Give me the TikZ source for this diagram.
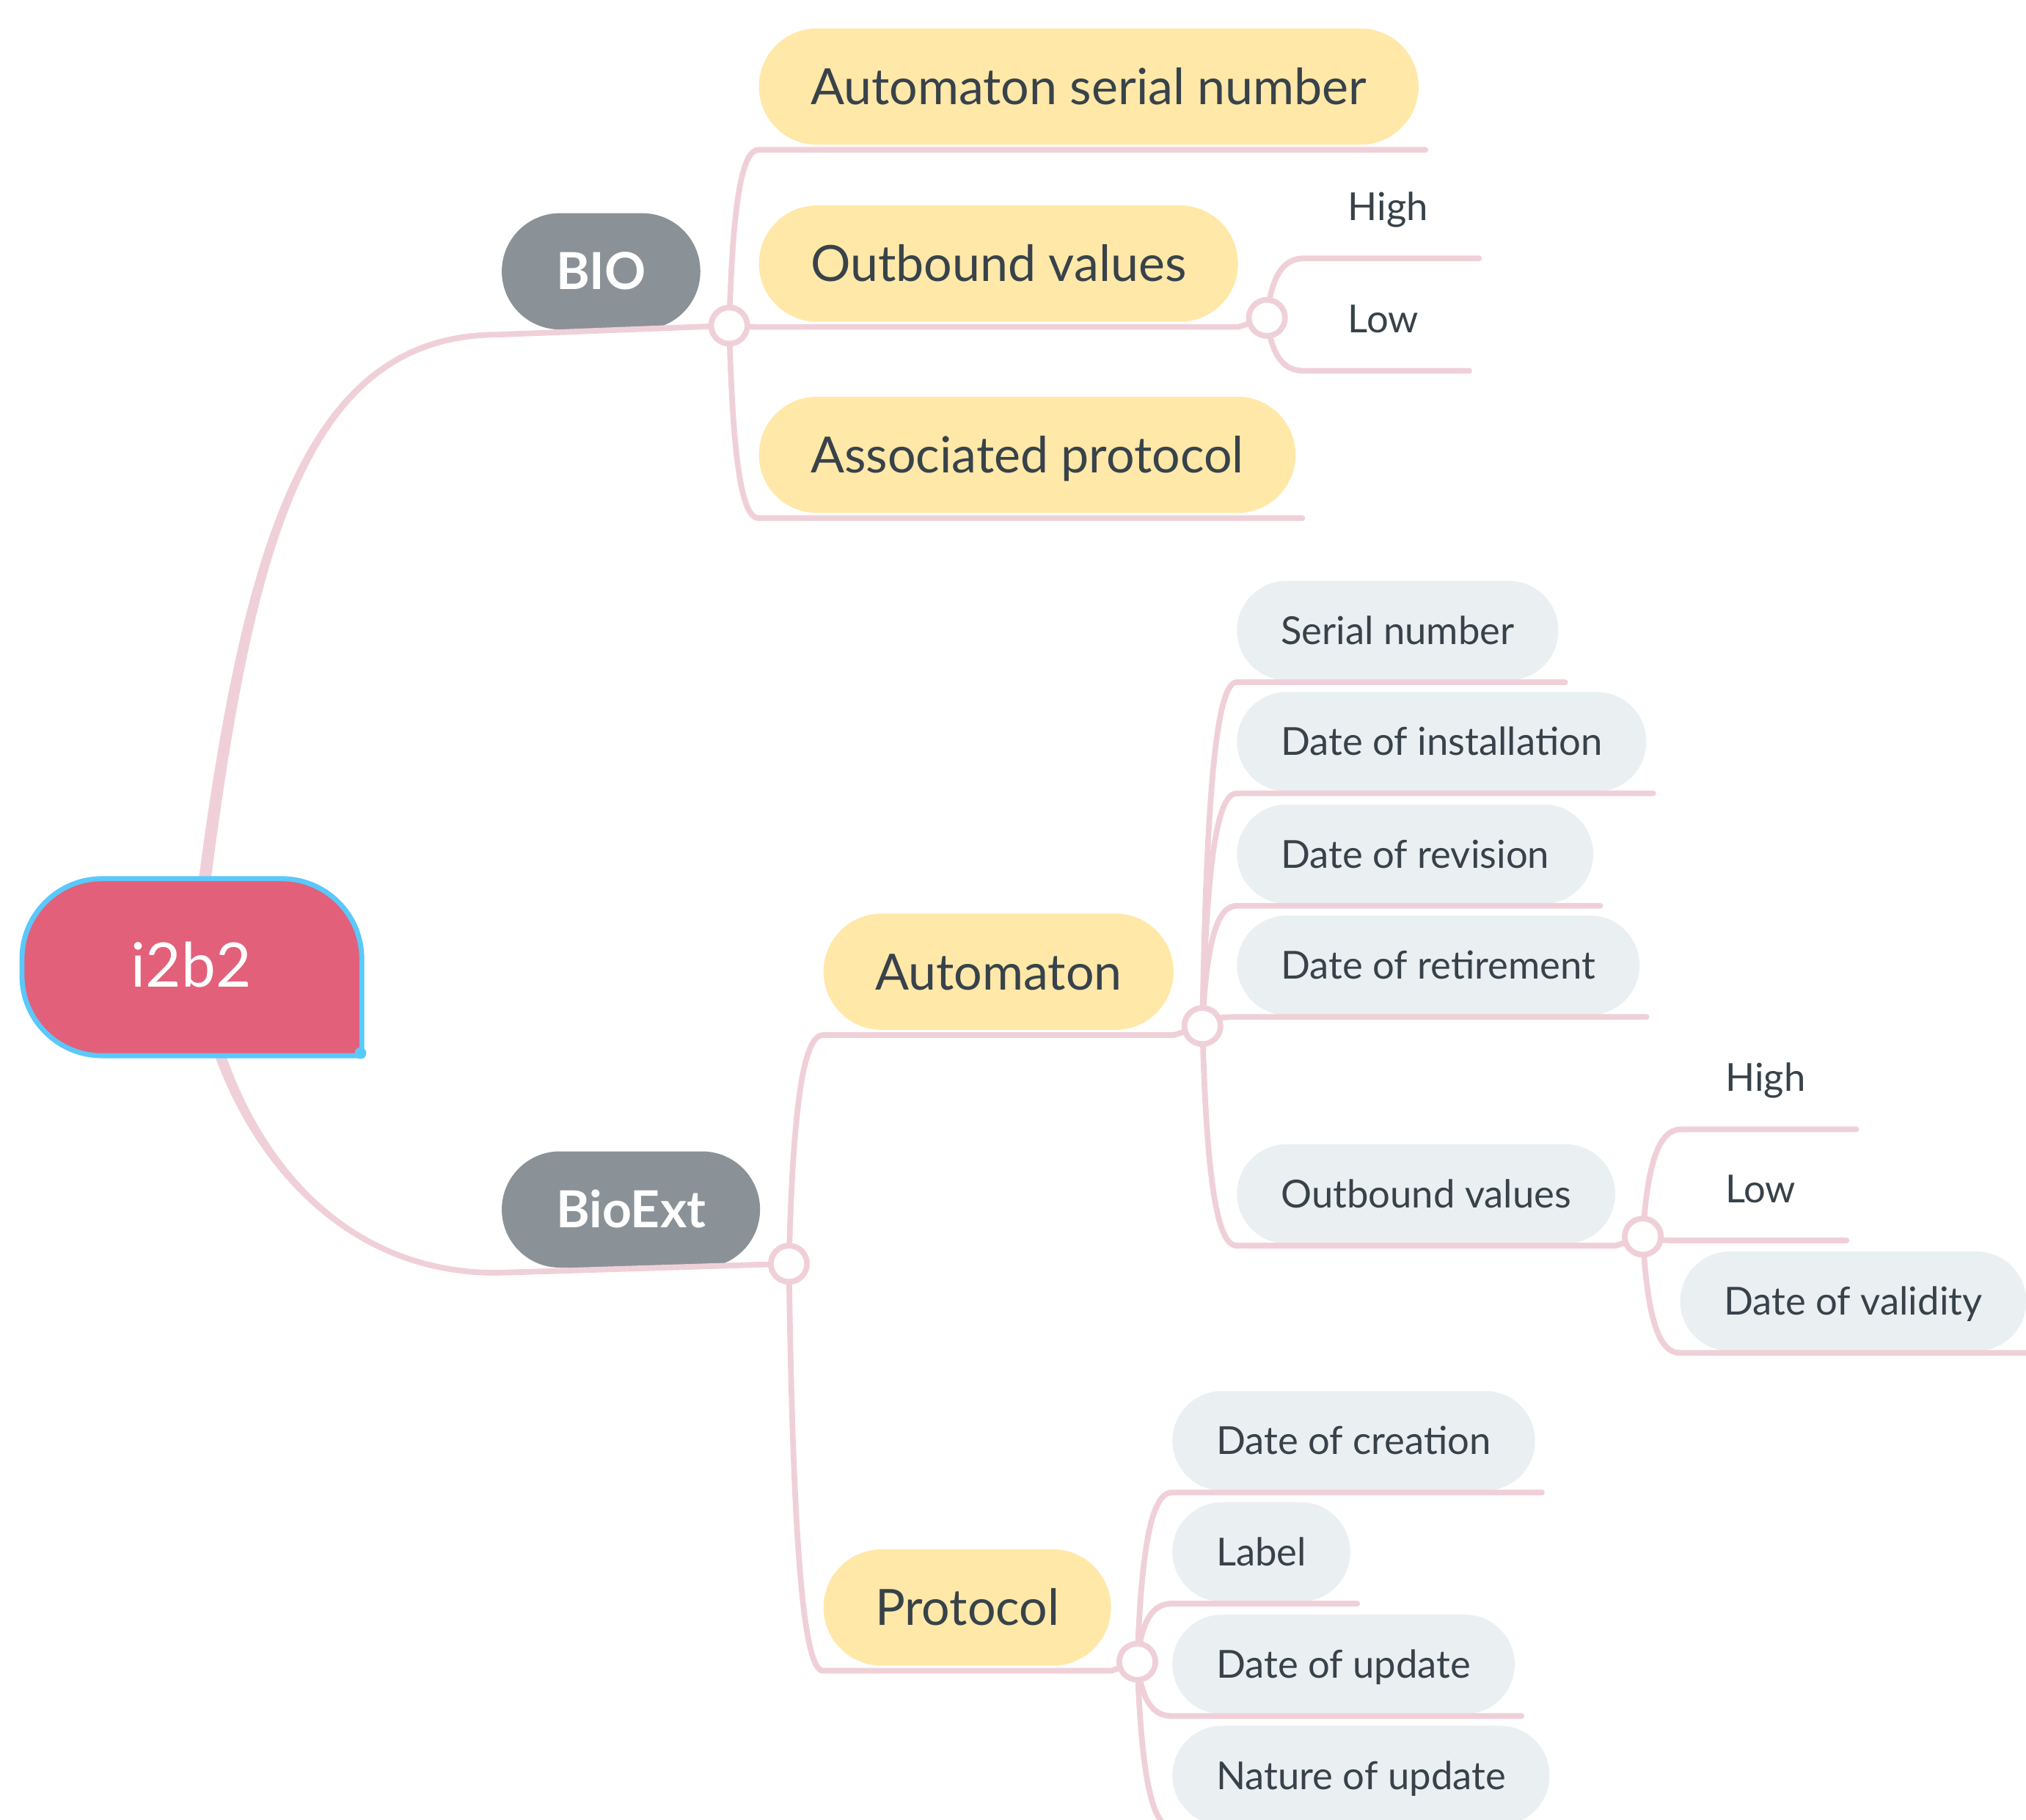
\documentclass[tikz,border=0pt]{standalone}
\usepackage{fontspec}
\setmainfont{Lato}
\usetikzlibrary{calc}

\definecolor{linkpink}{RGB}{240,208,216}
\definecolor{notepaper}{RGB}{255,232,168}
\definecolor{leafgray}{RGB}{234,239,242}
\definecolor{topicgray}{RGB}{138,146,151}
\definecolor{inkslate}{RGB}{55,66,74}
\definecolor{rootred}{RGB}{226,96,122}
\definecolor{rootblue}{RGB}{90,200,250}

\begin{document}
\begin{tikzpicture}[x=0.02cm, y=-0.02cm,
    link/.style={draw=linkpink, line width=2.5pt, line cap=round},
    branch/.style={to path={let \p1=(\tikztostart), \p2=(\tikztotarget) in
        .. controls ({\x1+0.12*(\x2-\x1)},{\y1+0.72*(\y2-\y1)}) and ({\x1+0.45*(\x2-\x1)},\y2) .. (\tikztotarget)}},
    topic/.style={fill=topicgray, text=white, rounded corners=0.9cm, minimum height=1.8cm, inner xsep=0.84cm,
        anchor=west, font=\fontsize{22.5pt}{24pt}\selectfont\bfseries, text height=16.1pt, text depth=0pt, outer ysep=0.08cm},
    sub/.style={fill=notepaper, text=inkslate, rounded corners=0.9cm, minimum height=1.8cm, inner xsep=0.8cm,
        anchor=west, font=\fontsize{22pt}{24pt}\selectfont, text height=15.8pt, text depth=0pt, outer ysep=0.08cm},
    leaf/.style={fill=leafgray, text=inkslate, rounded corners=0.77cm, minimum height=1.54cm, inner xsep=0.68cm,
        anchor=west, font=\fontsize{17pt}{19pt}\selectfont, text height=12.2pt, text depth=0pt, outer ysep=0.03cm},
    bare/.style={leaf, fill=none},
    hub/.style={circle, draw=linkpink, fill=white, line width=2.5pt, minimum size=0.56cm, inner sep=0pt}
]
    \useasboundingbox (0,0) rectangle (1568,1408);

    % main topics
    \node[topic] (bio) at (388,210) {BIO};
    \node[topic] (bioext) at (388,936) {BioExt};

    % BIO side
    \node[sub] (serialno) at (587,67) {Automaton serial number};
    \node[sub] (outbound) at (587,204) {Outbound values};
    \node[sub] (assoc) at (587,352) {Associated protocol};
    \node[bare] (high) at (1009,160) {High};
    \node[bare] (low) at (1009,247) {Low};

    % BioExt side
    \node[sub] (automaton) at (637,752) {Automaton};
    \node[sub] (protocol) at (637,1244) {Protocol};

    \node[leaf] (serial) at (957,488) {Serial number};
    \node[leaf] (install) at (957,574) {Date of installation};
    \node[leaf] (revision) at (957,661) {Date of revision};
    \node[leaf] (retire) at (957,747) {Date of retirement};
    \node[leaf] (outvals) at (957,924) {Outbound values};

    \node[bare] (high2) at (1301,834) {High};
    \node[bare] (low2) at (1301,920) {Low};
    \node[leaf] (validity) at (1300,1007) {Date of validity};

    \node[leaf] (creation) at (907,1115) {Date of creation};
    \node[leaf] (label) at (907,1201) {Label};
    \node[leaf] (update) at (907,1288) {Date of update};
    \node[leaf] (nature) at (907,1374) {Nature of update};

    % hubs
    \coordinate (bioHub) at ([shift={(22,-7)}]bio.south east);
    \coordinate (bioextHub) at ([shift={(22,-7)}]bioext.south east);
    \coordinate (outHub) at ([shift={(22,-7)}]outbound.south east);
    \coordinate (autoHub) at ([shift={(22,-7)}]automaton.south east);
    \coordinate (protoHub) at ([shift={(20,-7)}]protocol.south east);
    \coordinate (outHubb) at ([shift={(21,-7)}]outvals.south east);

    % root links, thick at the root
    \coordinate (rootUp) at (156,700);
    \coordinate (bioTail) at ($(bio.south west)+(-3,0)$);
    \fill[linkpink] ($(rootUp)+(-4.8,0)$) .. controls (187,420) and (235,257) .. ($(bioTail)+(0,-2.2)$)
        -- ($(bioTail)+(0,2.2)$) .. controls (238,262) and (196,420) .. ($(rootUp)+(4.8,0)$) -- cycle;
    \draw[link] (bioTail) -- (bioHub);

    \coordinate (rootDown) at (165,800);
    \coordinate (bioextTail) at ($(bioext.south west)+(-3,0)$);
    \fill[linkpink] ($(rootDown)+(-4.5,0)$) .. controls (191,900) and (268,988) .. ($(bioextTail)+(0,2.2)$)
        -- ($(bioextTail)+(0,-2.2)$) .. controls (270,983) and (199,900) .. ($(rootDown)+(4.5,0)$) -- cycle;
    \draw[link] (bioextTail) -- (bioextHub);

    % BIO branches
    \foreach \kid in {serialno,assoc}
        \draw[link] (bioHub) to[branch] (\kid.south west) -- (\kid.south east) -- ++(5,0);
    \draw[link] (bioHub) to[branch] (outbound.south west) -- (outbound.south east) -- (outHub);
    \foreach \kid in {high,low}
        \draw[link] (outHub) to[branch] (\kid.south west) -- (\kid.south east) -- ++(5,0);

    % BioExt branches
    \draw[link] (bioextHub) to[branch] (automaton.south west) -- (automaton.south east) -- (autoHub);
    \draw[link] (bioextHub) to[branch] (protocol.south west) -- (protocol.south east) -- (protoHub);
    \foreach \kid in {serial,install,revision,retire}
        \draw[link] (autoHub) to[branch] (\kid.south west) -- (\kid.south east) -- ++(5,0);
    \draw[link] (autoHub) to[branch] (outvals.south west) -- (outvals.south east) -- (outHubb);
    \foreach \kid in {high2,low2,validity}
        \draw[link] (outHubb) to[branch] (\kid.south west) -- (\kid.south east) -- ++(5,0);
    \foreach \kid in {creation,label,update,nature}
        \draw[link] (protoHub) to[branch] (\kid.south west) -- (\kid.south east) -- ++(5,0);

    \foreach \hubname in {bioHub,bioextHub,outHub,autoHub,protoHub,outHubb}
        \node[hub] (\hubname Ring) at (\hubname) {};

    % root topic
    \filldraw[fill=rootred, draw=rootblue, line width=2.2pt] (280,817) -- (79,817)
        arc[start angle=90, end angle=180, radius=62] -- (17,742)
        arc[start angle=180, end angle=270, radius=62] -- (218,680)
        arc[start angle=270, end angle=360, radius=62] -- cycle;
    \fill[rootblue] (279,815) circle[radius=4.5];
    \node[text=white, font=\fontsize{27pt}{29pt}\selectfont, text height=19.3pt, text depth=0pt] (root) at (148,747) {i2b2};
\end{tikzpicture}
\end{document}
